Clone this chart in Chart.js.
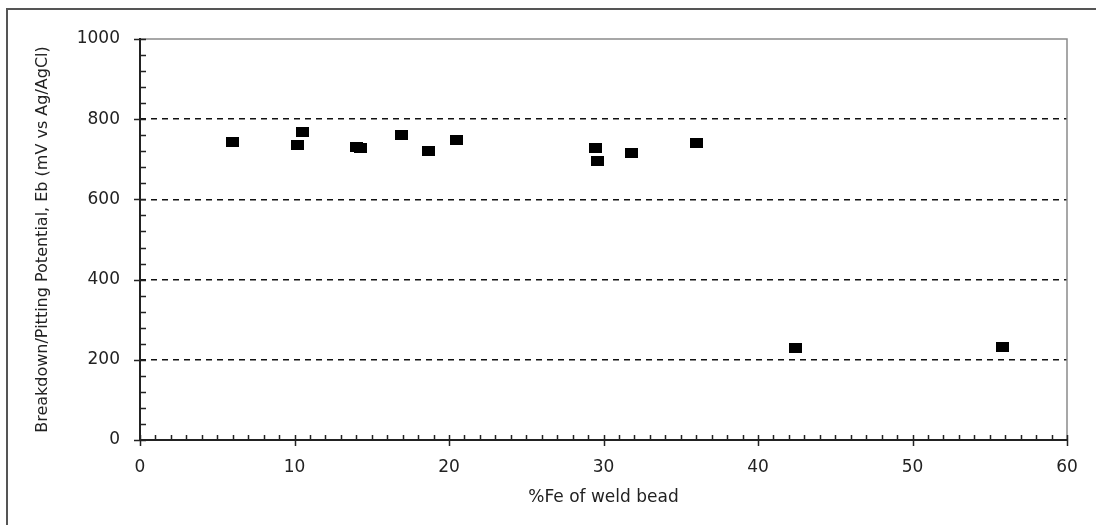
<!DOCTYPE html>
<html>
<head>
<meta charset="utf-8">
<script src="https://cdn.jsdelivr.net/npm/chart.js@4/dist/chart.umd.min.js"></script>
<style>
  html, body { margin: 0; padding: 0; background: #fff; }
  #wrap { width: 1096px; height: 525px; position: relative; }
</style>
</head>
<body>
<div id="wrap"><canvas id="c" width="1096" height="525"></canvas></div>
<script>
// Data
const feContent = [6.0, 10.2, 10.5, 14.0, 14.3, 16.9, 18.7, 20.5, 29.5, 29.6, 31.8, 36.0, 42.4, 55.8];
const breakdownPotential = [744, 736, 769, 730, 728, 761, 720, 749, 728, 695, 715, 740, 229, 233];
const xTicks = [0, 10, 20, 30, 40, 50, 60];
const yTicks = [0, 200, 400, 600, 800, 1000];
const xTitle = '%Fe of weld bead';
const yTitle = 'Breakdown/Pitting Potential, Eb (mV vs Ag/AgCl)';

const points = feContent.map((x, i) => ({ x: x, y: breakdownPotential[i] }));

// marker: filled black rectangle
const marker = document.createElement('canvas');
marker.width = 13; marker.height = 10;
(function () { const m = marker.getContext('2d'); m.fillStyle = '#000'; m.fillRect(0, 0, 13, 10); })();

const TEXT = '#222';

const framePlugin = {
  id: 'frame',
  beforeDraw(chart) {
    const ctx = chart.ctx;
    ctx.save();
    ctx.strokeStyle = '#555';
    ctx.lineWidth = 2;
    ctx.beginPath();
    ctx.moveTo(7, 530);
    ctx.lineTo(7, 9);
    ctx.lineTo(1100, 9);
    ctx.stroke();
    ctx.restore();
  },
  afterDatasetsDraw(chart) {
    const ctx = chart.ctx;
    const xs = chart.scales.x, ys = chart.scales.y;
    const x0 = xs.getPixelForValue(xs.min), x1 = xs.getPixelForValue(xs.max);
    const y0 = ys.getPixelForValue(ys.min), y1 = ys.getPixelForValue(ys.max);
    ctx.save();
    // gray top and right plot border
    ctx.strokeStyle = '#8a8a8a';
    ctx.lineWidth = 1.5;
    ctx.beginPath();
    ctx.moveTo(x0, y1); ctx.lineTo(x1, y1); ctx.lineTo(x1, y0);
    ctx.stroke();
    // axes
    ctx.strokeStyle = '#222';
    ctx.lineWidth = 2;
    ctx.beginPath();
    ctx.moveTo(x0, y1 - 1); ctx.lineTo(x0, y0); ctx.lineTo(x1, y0);
    ctx.stroke();
    // x ticks: minor every 1, major every 10
    ctx.lineWidth = 1.5;
    ctx.beginPath();
    for (let v = xs.min; v <= xs.max; v += 1) {
      const px = Math.round(xs.getPixelForValue(v)) + 0.5;
      if (v % 10 === 0) { ctx.moveTo(px, y0 - 5); ctx.lineTo(px, y0 + 6); }
      else { ctx.moveTo(px, y0 - 5); ctx.lineTo(px, y0); }
    }
    // y ticks: minor every 40, major every 200
    for (let v = ys.min; v <= ys.max; v += 40) {
      const py = Math.round(ys.getPixelForValue(v)) + 0.5;
      if (v % 200 === 0) { ctx.moveTo(x0 - 6, py); ctx.lineTo(x0 + 6, py); }
      else { ctx.moveTo(x0, py); ctx.lineTo(x0 + 6, py); }
    }
    ctx.stroke();
    ctx.restore();
  }
};

new Chart(document.getElementById('c'), {
  type: 'scatter',
  data: {
    datasets: [{
      label: 'Eb',
      data: points,
      pointStyle: marker,
      backgroundColor: '#000',
      borderColor: '#000',
      pointRadius: 7,
      pointHoverRadius: 7
    }]
  },
  options: {
    responsive: false,
    animation: false,
    devicePixelRatio: 1,
    layout: { padding: { left: 0, right: 29, top: 39, bottom: 0 } },
    plugins: {
      legend: { display: false },
      tooltip: { enabled: false },
      title: { display: false }
    },
    scales: {
      x: {
        type: 'linear',
        min: 0, max: 60,
        afterBuildTicks: (s) => { s.ticks = xTicks.map(v => ({ value: v })); },
        afterFit: (s) => { s.height = 85; },
        grid: { display: true, drawOnChartArea: false, drawTicks: false, color: 'rgba(0,0,0,0)' },
        border: { display: false },
        ticks: {
          padding: 17,
          color: TEXT,
          font: { family: 'DejaVu Sans', size: 17 },
          maxRotation: 0,
          callback: (v) => String(v)
        },
        title: {
          display: true,
          text: xTitle,
          color: TEXT,
          font: { family: 'DejaVu Sans', size: 17 },
          padding: { top: 0, bottom: 17 }
        }
      },
      y: {
        type: 'linear',
        min: 0, max: 1000,
        afterBuildTicks: (s) => { s.ticks = yTicks.map(v => ({ value: v })); },
        afterFit: (s) => { s.width = 140; },
        grid: {
          drawTicks: false,
          lineWidth: 1.6,
          color: (c) => (c.tick && (c.tick.value === 0 || c.tick.value === 1000)) ? 'rgba(0,0,0,0)' : '#111'
        },
        border: { display: false, dash: [6, 5] },
        ticks: {
          padding: 20,
          color: TEXT,
          font: { family: 'DejaVu Sans', size: 17 },
          callback: (v) => String(v)
        },
        title: {
          display: true,
          text: yTitle,
          color: TEXT,
          font: { family: 'DejaVu Sans', size: 16 },
          padding: { top: 33, bottom: 0 }
        }
      }
    }
  },
  plugins: [framePlugin]
});
</script>
</body>
</html>
